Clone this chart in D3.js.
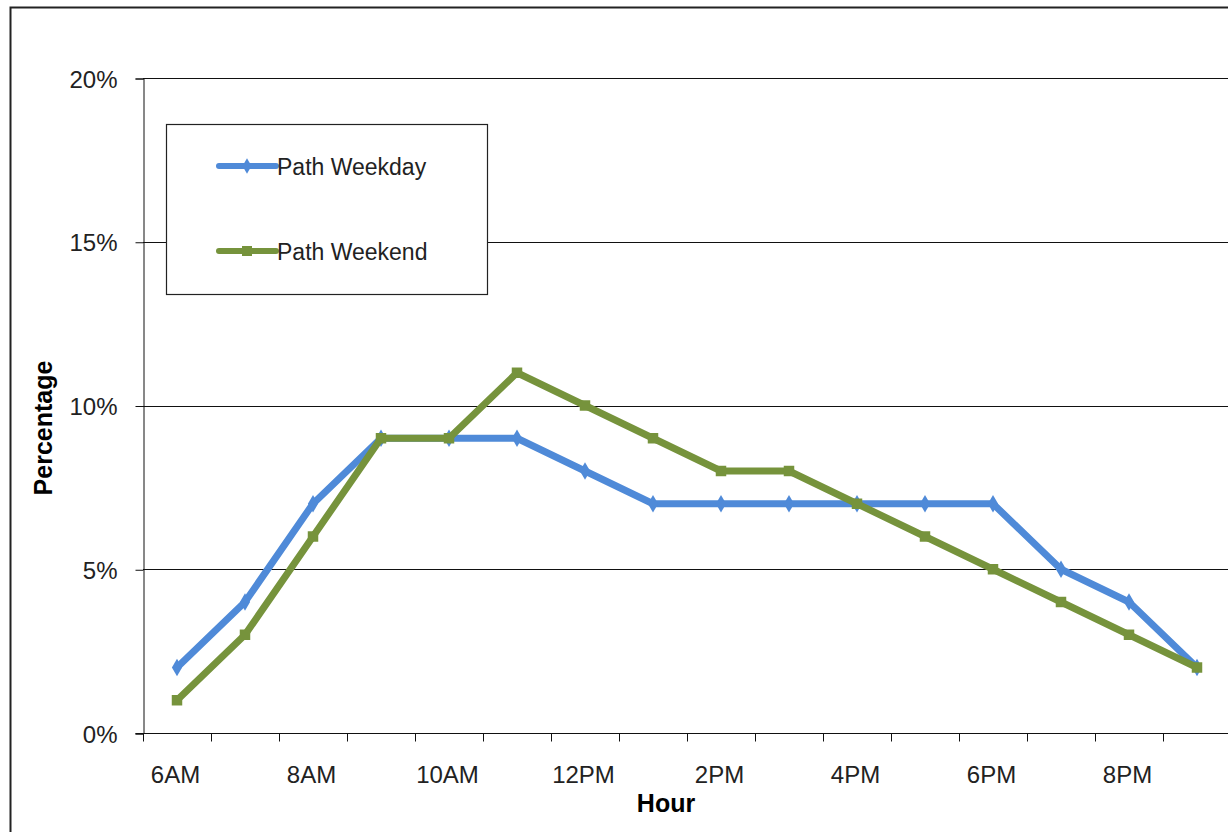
<!DOCTYPE html>
<html lang="en">
<head>
    <meta charset="UTF-8">
    <script src="https://cdn.jsdelivr.net/npm/d3@7"></script>
    <title>Path usage by hour</title>
    <style>
        body { margin: 0; background: white; }
        text { font-family: "Liberation Sans", Arial, sans-serif; }
    </style>
</head>
<body>
    <div class="chart"></div>
    <script>
        // data
        const hours = ["6AM", "7AM", "8AM", "9AM", "10AM", "11AM", "12PM", "1PM", "2PM",
            "3PM", "4PM", "5PM", "6PM", "7PM", "8PM", "9PM"];
        const weekday = [2, 4, 7, 9, 9, 9, 8, 7, 7, 7, 7, 7, 7, 5, 4, 2];
        const weekend = [1, 3, 6, 9, 9, 11, 10, 9, 8, 8, 7, 6, 5, 4, 3, 2];
        const yTicks = [0, 5, 10, 15, 20];
        const seriesNames = ["Path Weekday", "Path Weekend"];

        const width = 1228, height = 832;
        const margin = { left: 143, top: 78, right: -3, bottom: 99 };

        const svg = d3.select(".chart").append("svg")
            .attr("width", width)
            .attr("height", height);

        // outer chart frame
        svg.append("rect")
            .attr("x", 10.5).attr("y", 7.5)
            .attr("width", 1240).attr("height", 840)
            .attr("fill", "white")
            .attr("stroke", "#222").attr("stroke-width", 2);

        const x = d3.scaleBand()
            .domain(hours)
            .range([margin.left, width - margin.right]);
        const y = d3.scaleLinear()
            .domain([0, 20])
            .range([height - margin.bottom, margin.top]);

        // gridlines
        svg.append("g")
            .selectAll("line")
            .data(yTicks.filter(d => d > 0))
            .join("line")
            .attr("x1", margin.left).attr("x2", width)
            .attr("y1", d => Math.round(y(d)) + 0.5).attr("y2", d => Math.round(y(d)) + 0.5)
            .attr("stroke", "#111").attr("stroke-width", 1);

        // y axis
        const yAxis = svg.append("g")
            .attr("transform", `translate(${margin.left + 0.5},0.5)`)
            .call(d3.axisLeft(y).tickValues(yTicks).tickFormat(d => d + "%").tickSize(8).tickPadding(18));
        yAxis.select(".domain").attr("stroke", "#111");
        yAxis.selectAll("line").attr("stroke", "#111");
        yAxis.selectAll("text").attr("font-size", 24).attr("fill", "#222").attr("dy", "0.36em");

        // x axis: ticks between categories, label every other hour
        const xAxis = svg.append("g")
            .attr("transform", `translate(0.5,${Math.round(y(0)) + 0.5})`);
        xAxis.append("line")
            .attr("x1", margin.left - 8).attr("x2", width)
            .attr("stroke", "#111");
        const edges = d3.range(hours.length + 1).map(i => margin.left + i * x.step());
        xAxis.selectAll(".tick")
            .data(edges)
            .join("line")
            .attr("class", "tick")
            .attr("x1", d => Math.round(d)).attr("x2", d => Math.round(d))
            .attr("y1", 0).attr("y2", 8)
            .attr("stroke", "#111");
        xAxis.selectAll("text")
            .data(hours.filter((d, i) => i % 2 === 0))
            .join("text")
            .attr("x", d => x(d) + x.bandwidth() / 2 - 2)
            .attr("y", 49)
            .attr("text-anchor", "middle")
            .attr("font-size", 24)
            .attr("fill", "#222")
            .text(d => d);

        // axis titles
        svg.append("text")
            .attr("transform", `translate(52,428) rotate(-90)`)
            .attr("text-anchor", "middle")
            .attr("font-size", 25).attr("font-weight", "bold")
            .text("Percentage");
        svg.append("text")
            .attr("x", 666).attr("y", 812)
            .attr("text-anchor", "middle")
            .attr("font-size", 25).attr("font-weight", "bold")
            .text("Hour");

        const colors = ["#4F8AD8", "#76933C"];
        const line = d3.line()
            .x((d, i) => x(hours[i]) + x.bandwidth() / 2)
            .y(d => y(d));

        [weekday, weekend].forEach((vals, s) => {
            svg.append("path")
                .datum(vals)
                .attr("d", line)
                .attr("fill", "none")
                .attr("stroke", colors[s])
                .attr("stroke-width", 7)
                .attr("stroke-linejoin", "round");
            svg.append("g")
                .selectAll("path")
                .data(vals)
                .join("path")
                .attr("transform", (d, i) => `translate(${x(hours[i]) + x.bandwidth() / 2},${y(d)})`)
                .attr("d", d3.symbol().type(s === 0 ? d3.symbolDiamond : d3.symbolSquare).size(s === 0 ? 90 : 110))
                .attr("fill", colors[s]);
        });

        // legend
        const legend = svg.append("g");
        legend.append("rect")
            .attr("x", 166.5).attr("y", 124.5)
            .attr("width", 321).attr("height", 170)
            .attr("fill", "white")
            .attr("stroke", "#222").attr("stroke-width", 1.2);
        seriesNames.forEach((name, s) => {
            const ly = s === 0 ? 166 : 251;
            legend.append("line")
                .attr("x1", 219).attr("x2", 276)
                .attr("y1", ly).attr("y2", ly)
                .attr("stroke", colors[s]).attr("stroke-width", 6)
                .attr("stroke-linecap", "round");
            legend.append("path")
                .attr("transform", `translate(247,${ly})`)
                .attr("d", d3.symbol().type(s === 0 ? d3.symbolDiamond : d3.symbolSquare).size(s === 0 ? 70 : 100))
                .attr("fill", colors[s]);
            legend.append("text")
                .attr("x", 277).attr("y", ly + 9)
                .attr("font-size", 23)
                .attr("fill", "#222")
                .text(name);
        });
    </script>
</body>
</html>
